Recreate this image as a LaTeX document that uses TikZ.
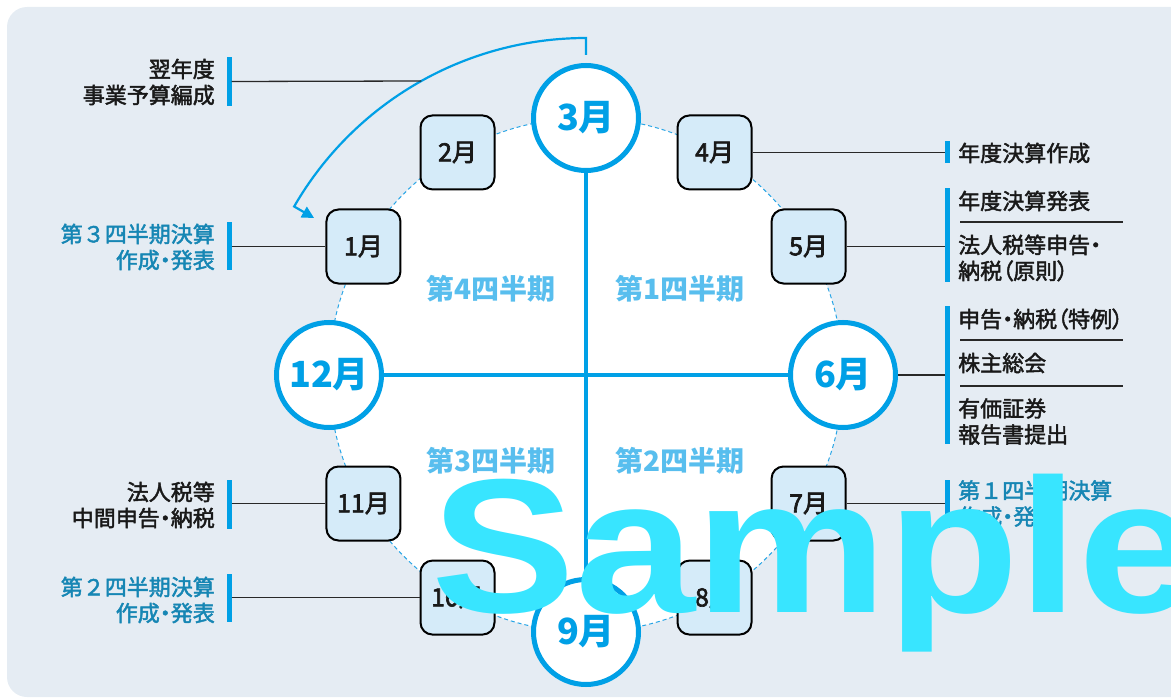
\documentclass[tikz,border=0pt]{standalone}
\usepackage{fontspec}
\usetikzlibrary{calc,arrows.meta}
\newfontfamily\jp{Noto Sans CJK JP}
\newfontfamily\jpm[FakeBold=2]{Noto Sans CJK JP}
\newfontfamily\jpb[FakeBold=2.5]{Noto Sans CJK JP}
\newfontfamily\jpp[RawFeature=+palt,FakeBold=2]{Noto Sans CJK JP}
\newfontfamily\wm{Liberation Sans}
\newcommand\nk{{\jpp ・}}
\newcommand\lp{{\jpp （}}
\newcommand\rp{{\jpp ）}}
\definecolor{bgc}{RGB}{229,236,243}
\definecolor{boxc}{RGB}{213,235,249}
\definecolor{mblue}{RGB}{0,160,230}
\definecolor{qc}{RGB}{88,190,238}
\definecolor{tealc}{RGB}{22,134,180}
\definecolor{txt}{RGB}{25,25,25}
\definecolor{lc}{RGB}{40,40,40}
\definecolor{dashc}{RGB}{40,165,230}
\definecolor{wmc}{RGB}{56,229,255}
\begin{document}
\begin{tikzpicture}[x=1pt,y=-1pt,
  mbox/.style={draw=black, line width=2pt, rounded corners=12pt, fill=boxc, minimum width=74pt, minimum height=74pt, inner sep=0pt, font=\jpb\fontsize{25}{25}\selectfont, text=txt},
  mcirc/.style={circle, draw=mblue, line width=5pt, fill=white, minimum size=105pt, inner sep=0pt, font=\jp\bfseries\fontsize{36}{36}\selectfont, text=mblue},
  qlab/.style={font=\jp\bfseries\fontsize{28}{28}\selectfont, text=qc},
  bar/.style={fill=mblue, minimum width=5pt, inner sep=0pt, outer sep=0pt},
  conn/.style={draw=lc, line width=1.3pt},
  annL/.style={anchor=east, align=right, inner sep=0pt, font=\jpm\fontsize{22}{26}\selectfont, text=txt},
  annR/.style={anchor=west, align=left, inner sep=0pt, font=\jpm\fontsize{22}{26}\selectfont, text=txt},
  tealtxt/.style={text=tealc},
  arcline/.style={draw=mblue, line width=2.2pt}
]
\useasboundingbox (0,0) rectangle (1171,698);
\fill[bgc, rounded corners=20pt] (7,7) rectangle (1192,697);
\coordinate (C) at (586,375);
\draw[dashc, line width=1pt, dash pattern=on 4pt off 3pt, fill=white] (C) circle[radius=257];

% month boxes
\foreach \m/\a in {1/-150,2/-120,4/-60,5/-30,7/30,8/60,10/120,11/150}
  \node[mbox] (m\m) at ($(C)+(\a:257)$) {{\m}月};
% big month circles
\foreach \m/\a in {3/-90,6/0,9/90,12/180}
  \node[mcirc] (m\m) at ($(C)+(\a:257)$) {{\m}月};

% cross
\draw[mblue, line width=4pt] (m3) -- (m9);
\draw[mblue, line width=4pt] (m12) -- (m6);

% quarter labels
\node[qlab] (q4) at (491,289) {第4四半期};
\node[qlab] (q1) at (680,289) {第1四半期};
\node[qlab] (q3) at (491,461) {第3四半期};
\node[qlab] (q2) at (680,461) {第2四半期};

% arc arrow from 3月 to 1月
\coordinate (arcpt) at (421.3,81);
\draw[arcline, -{Triangle[length=12pt,width=12pt]}]
  ([yshift=8pt]m3.north) -- ++(0,-17) arc[start angle=-90, end angle=-150, radius=337] -- ++(-150:-23);

% left annotations
\node[bar, minimum height=49pt] (bA1) at (229,81.5) {};
\node[annL] (tA1) at (215,82) {翌年度\\事業予算編成};
\draw[conn] (bA1.east) -- (arcpt);

\node[bar, minimum height=48pt] (bA2) at (229,246) {};
\node[annL, tealtxt] (tA2) at (215,247) {第３四半期決算\\作成\nk 発表};
\draw[conn] (m1.west -| bA2.east) -- (m1.west);

\node[bar, minimum height=49pt] (bA3) at (229,504.5) {};
\node[annL] (tA3) at (215,505) {法人税等\\中間申告\nk 納税};
\draw[conn] (m11.west -| bA3.east) -- (m11.west);

\node[bar, minimum height=48pt] (bA4) at (229,598) {};
\node[annL, tealtxt] (tA4) at (215,600) {第２四半期決算\\作成\nk 発表};
\draw[conn] (m10.west -| bA4.east) -- (m10.west);

% right annotations
\node[bar, minimum height=22pt] (bB1) at (947.5,152) {};
\node[annR] (tB1) at (958,153) {年度決算作成};
\draw[conn] (m4.east) -- (m4.east -| bB1.west);

\node[bar, minimum height=94pt] (bB2) at (947.5,235) {};
\node[annR] (tB2a) at (958,201) {年度決算発表};
\node[annR] (tB2b) at (958,258) {法人税等申告\nk\\納税\lp 原則\rp};
\coordinate (s1a) at (960,222);
\coordinate (s1b) at (1123,222);
\draw[conn] (s1a) -- (s1b);
\draw[conn] (m5.east) -- (m5.east -| bB2.west);

\node[bar, minimum height=138pt] (bB3) at (947.5,375) {};
\node[annR] (tB3a) at (958,319) {申告\nk 納税\lp 特例\rp};
\node[annR] (tB3b) at (958,363) {株主総会};
\node[annR] (tB3c) at (958,421.5) {有価証券\\報告書提出};
\coordinate (s2a) at (960,340);
\coordinate (s2b) at (1123,340);
\coordinate (s3a) at (960,386);
\coordinate (s3b) at (1123,386);
\draw[conn] (s2a) -- (s2b);
\draw[conn] (s3a) -- (s3b);
\draw[conn] (m6.east) -- (m6.east -| bB3.west);

\node[bar, minimum height=48pt] (bB4) at (947.5,504) {};
\node[annR, tealtxt] (tB4) at (958,503.5) {第１四半期決算\\作成\nk 発表};
\draw[conn] (m7.east) -- (m7.east -| bB4.west);

% watermark
\begin{scope}[shift={(431,612)}]
\node[anchor=base west, inner sep=0pt, xscale=1.13, text=wmc, font=\wm\bfseries\fontsize{191}{191}\selectfont] (wm) at (0,0) {Sample};
\end{scope}
\end{tikzpicture}
\end{document}
